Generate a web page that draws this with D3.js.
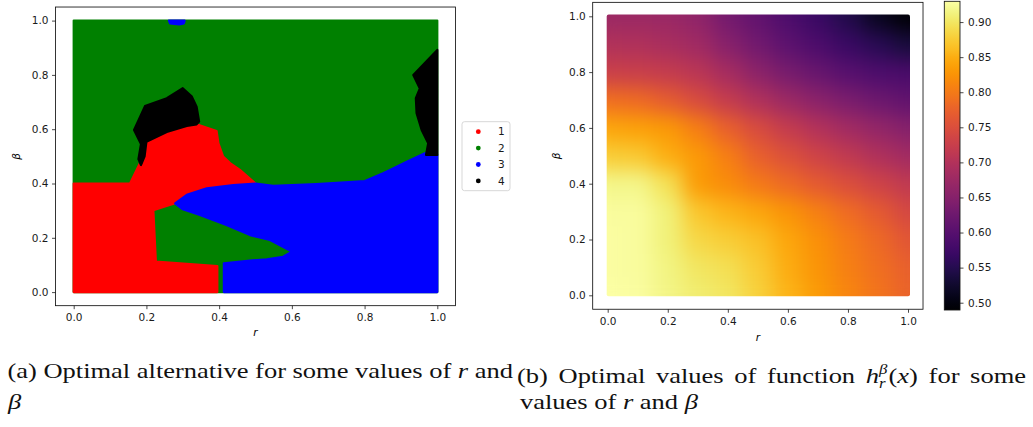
<!DOCTYPE html>
<html lang="en">
<head>
<meta charset="utf-8">
<title>Optimal alternative and optimal values</title>
<script src="https://cdn.jsdelivr.net/npm/d3@7"></script>
<style>
  body { margin: 0; background: #fff; }
  svg { display: block; }
  .tick text { font-family: "DejaVu Sans", sans-serif; font-size: 10.5px; fill: #1a1a1a; }
  .tick line { stroke: #1a1a1a; stroke-width: 0.8; }
</style>
</head>
<body>
<svg id="fig" width="1033" height="427"></svg>
<script>

// ---------- data ----------
const classLabels = ["1", "2", "3", "4"];
const classColors = ["red", "green", "blue", "black"];

// region outlines, points are [r, beta]
const greenRegion = [[0, 0], [1, 0], [1, 1], [0, 1]];
const redRegion = [[0, 0], [0.395, 0], [0.395, 0.096], [0.226, 0.112], [0.219, 0.302], [0.279, 0.327],
  [0.311, 0.358], [0.366, 0.382], [0.439, 0.394], [0.50, 0.40], [0.457, 0.45], [0.43, 0.475],
  [0.411, 0.499], [0.398, 0.548], [0.393, 0.593], [0.338, 0.618], [0.311, 0.612], [0.256, 0.59],
  [0.20, 0.554], [0.195, 0.50], [0.182, 0.475], [0.155, 0.40], [0, 0.40]];
const blueRegion = [[0.413, 0], [1, 0], [1, 0.505], [0.966, 0.511], [0.916, 0.48], [0.87, 0.45],
  [0.851, 0.438], [0.801, 0.409], [0.668, 0.398], [0.549, 0.391], [0.50, 0.40], [0.439, 0.394],
  [0.366, 0.382], [0.311, 0.358], [0.279, 0.327], [0.30, 0.305], [0.347, 0.284], [0.42, 0.247],
  [0.485, 0.21], [0.54, 0.192], [0.60, 0.149], [0.576, 0.13], [0.531, 0.121], [0.485, 0.116],
  [0.413, 0.106]];
const blueSpot = [[0.262, 1.0], [0.305, 1.0], [0.303, 0.99], [0.29, 0.986], [0.265, 0.99]];
const blackLeft = [[0.30, 0.751], [0.325, 0.72], [0.338, 0.683], [0.345, 0.628], [0.338, 0.618],
  [0.311, 0.612], [0.256, 0.59], [0.20, 0.554], [0.195, 0.50], [0.185, 0.468], [0.178, 0.49],
  [0.185, 0.545], [0.166, 0.597], [0.196, 0.685], [0.256, 0.714]];
const blackRight = [[1, 0.892], [0.934, 0.80], [0.952, 0.75], [0.941, 0.714], [0.943, 0.659],
  [0.957, 0.597], [0.975, 0.548], [0.969, 0.505], [1, 0.505]];

const axisTicks = [0, 0.2, 0.4, 0.6, 0.8, 1.0];

// optimal value of h on a coarse grid, rows beta = 0 .. 1, columns r = 0 .. 1
const rGrid = [0, 0.1, 0.2, 0.3, 0.4, 0.5, 0.6, 0.7, 0.8, 0.9, 1.0];
const betaGrid = [0, 0.1, 0.2, 0.3, 0.4, 0.5, 0.6, 0.7, 0.8, 0.9, 1.0];
const hValues = [
  [0.928, 0.927, 0.915, 0.907, 0.900, 0.880, 0.855, 0.833, 0.812, 0.795, 0.776],
  [0.927, 0.926, 0.913, 0.900, 0.893, 0.875, 0.848, 0.826, 0.806, 0.790, 0.772],
  [0.927, 0.925, 0.910, 0.886, 0.878, 0.866, 0.843, 0.822, 0.802, 0.782, 0.760],
  [0.926, 0.925, 0.910, 0.870, 0.855, 0.842, 0.826, 0.806, 0.786, 0.765, 0.742],
  [0.917, 0.916, 0.895, 0.833, 0.818, 0.800, 0.782, 0.765, 0.750, 0.733, 0.716],
  [0.877, 0.874, 0.850, 0.830, 0.805, 0.772, 0.752, 0.733, 0.715, 0.697, 0.682],
  [0.842, 0.838, 0.830, 0.805, 0.772, 0.745, 0.720, 0.700, 0.682, 0.665, 0.650],
  [0.790, 0.785, 0.768, 0.745, 0.720, 0.697, 0.675, 0.655, 0.638, 0.622, 0.610],
  [0.728, 0.726, 0.720, 0.708, 0.684, 0.657, 0.635, 0.618, 0.600, 0.590, 0.585],
  [0.698, 0.696, 0.690, 0.680, 0.652, 0.628, 0.605, 0.588, 0.570, 0.553, 0.535],
  [0.675, 0.675, 0.672, 0.660, 0.632, 0.610, 0.590, 0.570, 0.545, 0.515, 0.490]
];
const colorTicks = [0.50, 0.55, 0.60, 0.65, 0.70, 0.75, 0.80, 0.85, 0.90];
const colorMin = 0.4896, colorMax = 0.9296;

// ---------- setup ----------
const svg = d3.select("#fig");
svg.append("rect").attr("width", 1033).attr("height", 427).attr("fill", "#fff");
const defs = svg.append("defs");

const tickFont = '"DejaVu Sans", sans-serif';

function frame(x, y) {
  svg.append("rect")
    .attr("x", x(-0.05)).attr("y", y(1.05))
    .attr("width", x(1.05) - x(-0.05)).attr("height", y(-0.05) - y(1.05))
    .attr("fill", "none").attr("stroke", "#111").attr("stroke-width", 0.85);
}

function axes(x, y) {
  svg.append("g")
    .attr("transform", "translate(0," + y(-0.05) + ")")
    .call(d3.axisBottom(x).tickValues(axisTicks).tickFormat(d3.format(".1f"))
      .tickSize(3.5).tickPadding(4.5).tickSizeOuter(0))
    .call(g => g.select(".domain").remove());
  svg.append("g")
    .attr("transform", "translate(" + x(-0.05) + ",0)")
    .call(d3.axisLeft(y).tickValues(axisTicks).tickFormat(d3.format(".1f"))
      .tickSize(3.5).tickPadding(3.5).tickSizeOuter(0))
    .call(g => g.select(".domain").remove());
}

function axisLabels(x, y, xlabY, ylabX) {
  svg.append("text")
    .attr("x", x(0.5)).attr("y", xlabY)
    .attr("text-anchor", "middle")
    .style("font-family", tickFont).style("font-size", "10.5px").style("font-style", "italic")
    .text("r");
  svg.append("text")
    .attr("transform", "translate(" + ylabX + "," + y(0.5) + ") rotate(-90)")
    .attr("text-anchor", "middle")
    .style("font-family", tickFont).style("font-size", "10.5px").style("font-style", "italic")
    .text("β");
}

// ---------- (a) optimal alternative ----------
const xL = d3.scaleLinear().domain([0, 1]).range([73.7, 437.3]);
const yL = d3.scaleLinear().domain([0, 1]).range([292.1, 20.6]);

const regions = [
  { cls: 1, pts: greenRegion },
  { cls: 0, pts: redRegion },
  { cls: 2, pts: blueRegion },
  { cls: 2, pts: blueSpot },
  { cls: 3, pts: blackLeft },
  { cls: 3, pts: blackRight }
];
const area = d3.line().x(d => xL(d[0])).y(d => yL(d[1]));

svg.append("g").selectAll("path")
  .data(regions)
  .join("path")
  .attr("d", d => area(d.pts) + "Z")
  .attr("fill", d => classColors[d.cls])
  .attr("stroke", d => classColors[d.cls])
  .attr("stroke-width", 2.2)
  .attr("stroke-linejoin", "round");

axes(xL, yL);
frame(xL, yL);
axisLabels(xL, yL, 336, 20);

// legend
const legend = svg.append("g").attr("transform", "translate(462,121.7)");
legend.append("rect")
  .attr("width", 48).attr("height", 69).attr("rx", 2.5)
  .attr("fill", "#fff").attr("stroke", "#d3d3d3").attr("stroke-width", 0.9);
const legendRow = legend.selectAll("g.item")
  .data(classLabels)
  .join("g")
  .attr("class", "item")
  .attr("transform", (d, i) => "translate(0," + (10 + i * 16.4) + ")");
legendRow.append("circle").attr("cx", 16.3).attr("r", 2.4).attr("fill", (d, i) => classColors[i]);
legendRow.append("text")
  .attr("x", 36).attr("dy", "0.36em")
  .style("font-family", tickFont).style("font-size", "10.5px").attr("fill", "#1a1a1a")
  .text(d => d);

// ---------- (b) optimal values heat map ----------
const xR = d3.scaleLinear().domain([0, 1]).range([607.7, 908]);
const yR = d3.scaleLinear().domain([0, 1]).range([295.3, 16.3]);
const color = d3.scaleSequential(d3.interpolateInferno).domain([colorMin, colorMax]);

defs.append("clipPath").attr("id", "heatClip")
  .append("rect")
  .attr("x", xR(0) - 1).attr("y", yR(1) - 1.8)
  .attr("width", xR(1) - xR(0) + 3).attr("height", yR(0) - yR(1) + 2.8)
  .attr("rx", 2);

const soft = defs.append("filter").attr("id", "soften")
  .attr("x", "-10%").attr("y", "-10%").attr("width", "120%").attr("height", "120%")
  .attr("color-interpolation-filters", "sRGB");
soft.append("feGaussianBlur").attr("stdDeviation", 10);
soft.append("feComponentTransfer").append("feFuncA").attr("type", "table").attr("tableValues", "1 1");

const cells = [];
betaGrid.forEach((b, i) => rGrid.forEach((r, j) => cells.push({ r: r, b: b, v: hValues[i][j] })));
const cw = xR(0.1) - xR(0), ch = yR(0) - yR(0.1);

svg.append("g").attr("clip-path", "url(#heatClip)")
  .append("g").attr("filter", "url(#soften)")
  .selectAll("rect")
  .data(cells)
  .join("rect")
  .attr("x", d => xR(d.r) - cw / 2)
  .attr("y", d => yR(d.b) - ch / 2)
  .attr("width", cw + 0.6)
  .attr("height", ch + 0.6)
  .attr("fill", d => color(d.v));

axes(xR, yR);
frame(xR, yR);
axisLabels(xR, yR, 341, 560);

// colorbar
const cScale = d3.scaleLinear().domain([colorMin, colorMax]).range([310, 1.3]);
const grad = defs.append("linearGradient").attr("id", "infernoBar")
  .attr("x1", 0).attr("y1", 1).attr("x2", 0).attr("y2", 0);
grad.selectAll("stop")
  .data(d3.range(0, 1.0001, 0.02))
  .join("stop")
  .attr("offset", d => d)
  .attr("stop-color", d => d3.interpolateInferno(d));
svg.append("rect")
  .attr("x", 944.3).attr("y", cScale(colorMax))
  .attr("width", 15.7).attr("height", cScale(colorMin) - cScale(colorMax))
  .attr("fill", "url(#infernoBar)")
  .attr("stroke", "#111").attr("stroke-width", 0.85);
svg.append("g")
  .attr("transform", "translate(960,0)")
  .call(d3.axisRight(cScale).tickValues(colorTicks).tickFormat(d3.format(".2f"))
    .tickSize(3.5).tickPadding(4.5).tickSizeOuter(0))
  .call(g => g.select(".domain").remove());

// ---------- captions ----------
const capFont = '"Liberation Serif", "DejaVu Serif", serif';
const capSize = 22;

function captionLine(x, y, parts) {
  const t = svg.append("text")
    .style("font-family", capFont).style("font-size", capSize + "px").attr("fill", "#111");
  parts.forEach(p => {
    const s = t.append("tspan").text(p.t);
    if (p.it) s.style("font-style", "italic");
    if (p.fs) s.style("font-size", p.fs + "px");
    if (p.dx) s.attr("dx", p.dx);
    if (p.dy) s.attr("dy", p.dy);
  });
  return { node: t, x: x, y: y };
}

const capA1 = captionLine(7.5, 378, [
  { t: "(a) Optimal alternative for some values of " }, { t: "r", it: true }, { t: " and" }]);
const capA2 = captionLine(8, 408.5, [{ t: "β", it: true }]);
const capB1 = captionLine(517, 383, [
  { t: "(b) Optimal values of function " }, { t: "h", it: true },
  { t: "β", it: true, fs: 14, dy: -9.5 }, { t: "r", it: true, fs: 14, dx: -7, dy: 14.5 },
  { t: "(", dx: 2.5, dy: -5 }, { t: "x", it: true }, { t: ") for some" }]);
const capB2 = captionLine(520, 409, [
  { t: "values of " }, { t: "r", it: true }, { t: " and " }, { t: "β", it: true }]);

// horizontal stretch so the serif face gets the width of the original type
const sx = 178 / capB2.node.node().getBBox().width;
[capA1, capA2, capB1, capB2].forEach(c =>
  c.node.attr("transform", "translate(" + c.x + "," + c.y + ") scale(" + sx + ",1)"));

// justify the first lines
function justify(c, width) {
  const w = c.node.node().getBBox().width;
  const spaces = (c.node.text().match(/ /g) || []).length;
  c.node.style("word-spacing", ((width / sx - w) / spaces) + "px");
}
justify(capA1, 505.5);
justify(capB1, 509);

</script>
</body>
</html>
